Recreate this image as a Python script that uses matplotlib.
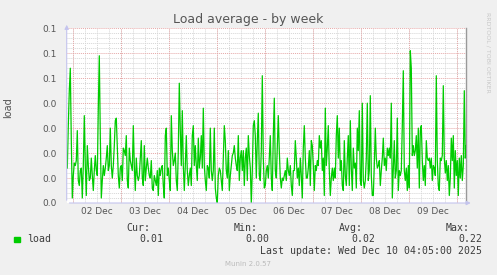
import numpy as np
import pandas as pd
import matplotlib
matplotlib.use('Agg')
import matplotlib.pyplot as plt
from matplotlib.patches import Rectangle
from matplotlib.ticker import FixedLocator, MultipleLocator, FormatStrFormatter
import matplotlib.dates as mdates

# load average, one sample per 30 min, in hundredths
load_centi = [
    1.4, 3.1, 4.5, 5.4, 2.5, 0.2, 1.1, 1.6, 1.5, 1.7, 2.9, 0.9, 0.7, 1.3, 1.4, 0.2, 1.5, 3.5, 1.5, 0.3,
    2.3, 1.5, 0.9, 1.0, 1.8, 1.1, 0.5, 1.3, 1.9, 1.3, 1.1, 3.8, 5.9, 2.7, 0.2, 0.9, 1.5, 1.1, 1.4, 1.8,
    2.3, 1.3, 1.5, 3.0, 1.5, 1.0, 1.5, 2.3, 3.3, 3.4, 2.3, 1.1, 0.6, 1.4, 1.5, 0.9, 2.2, 2.1, 1.9, 2.7,
    0.9, 0.6, 2.2, 1.7, 1.5, 1.3, 3.1, 1.5, 0.5, 1.8, 1.1, 0.9, 1.1, 1.8, 2.5, 1.0, 0.7, 2.3, 0.9, 1.4,
    1.8, 1.4, 1.1, 1.0, 1.7, 0.6, 0.5, 1.1, 0.9, 0.7, 1.3, 0.3, 1.4, 1.1, 1.4, 1.5, 0.7, 0.2, 2.7, 3.0,
    1.1, 1.4, 0.9, 0.5, 3.5, 2.1, 1.5, 1.7, 2.0, 0.9, 0.5, 2.1, 4.8, 2.9, 1.5, 3.7, 1.5, 0.5, 1.5, 2.7,
    1.3, 0.7, 1.1, 1.4, 0.7, 2.7, 3.1, 1.5, 2.3, 1.5, 0.9, 2.6, 1.4, 1.8, 2.7, 1.4, 3.8, 1.5, 0.9, 0.5,
    1.5, 1.4, 1.0, 3.0, 1.3, 0.9, 1.3, 3.0, 0.6, 0.2, 0.0, 1.1, 1.4, 1.3, 0.9, 0.5, 1.8, 3.1, 2.5, 1.3,
    1.0, 2.1, 0.5, 1.1, 1.5, 1.9, 2.0, 2.3, 1.8, 1.5, 1.3, 2.7, 0.9, 1.8, 2.1, 1.3, 2.1, 0.7, 1.8, 2.2,
    0.9, 2.7, 1.9, 1.4, 0.0, 1.3, 3.1, 3.3, 2.7, 1.0, 2.5, 3.6, 1.1, 0.9, 2.1, 5.1, 1.8, 0.6, 0.7, 1.3,
    1.5, 1.0, 1.8, 2.7, 1.0, 0.5, 2.7, 4.2, 1.3, 1.0, 2.2, 3.5, 2.1, 1.0, 0.6, 1.0, 0.9, 1.1, 1.3, 0.9,
    1.8, 1.3, 1.1, 1.5, 0.7, 0.3, 1.3, 1.3, 2.5, 1.8, 1.0, 1.4, 0.7, 1.8, 1.1, 0.2, 2.2, 3.1, 1.8, 1.0,
    1.0, 1.4, 2.1, 0.7, 2.5, 2.3, 1.5, 0.5, 1.5, 1.3, 1.7, 1.5, 2.7, 2.2, 2.5, 1.3, 1.8, 0.3, 3.8, 1.5,
    2.2, 3.1, 1.3, 0.3, 1.0, 1.4, 0.9, 1.4, 1.0, 2.7, 3.5, 1.8, 3.0, 1.3, 1.7, 0.7, 0.5, 2.5, 1.1, 0.7,
    1.8, 2.7, 0.7, 3.3, 1.4, 0.5, 2.2, 1.4, 1.6, 0.6, 3.0, 2.1, 3.7, 0.9, 0.7, 4.0, 0.9, 0.6, 0.9, 1.8,
    4.0, 0.9, 1.3, 4.3, 1.1, 0.3, 0.3, 1.5, 3.0, 1.8, 1.4, 1.5, 1.7, 0.7, 1.3, 1.8, 2.6, 1.5, 1.8, 1.3,
    2.2, 1.9, 2.2, 1.8, 4.0, 0.2, 1.4, 2.5, 1.0, 1.3, 3.4, 0.5, 1.3, 1.1, 1.3, 3.1, 5.3, 1.3, 0.9, 1.4,
    0.5, 1.5, 0.6, 6.1, 5.4, 1.9, 2.3, 1.9, 2.1, 2.7, 1.4, 3.0, 0.6, 2.9, 3.1, 1.7, 0.9, 1.5, 0.7, 2.5,
    1.8, 1.7, 1.8, 1.4, 1.8, 0.9, 1.5, 1.4, 1.1, 5.1, 1.7, 0.7, 0.5, 1.8, 1.7, 1.9, 4.7, 1.8, 1.2, 1.7,
    0.9, 1.5, 0.3, 1.0, 2.6, 1.7, 2.7, 0.6, 2.1, 1.1, 1.7, 0.3, 1.8, 1.0, 1.9, 0.9, 1.5, 4.5, 1.8, 2.3,
]
first_sample = '2025-12-01 21:00'
view_start = '2025-12-01 20:42'
view_end = '2025-12-10 04:30'

title = 'Load average - by week'
stat_names = ['Cur:', 'Min:', 'Avg:', 'Max:']
stat_values = ['0.01', '0.00', '0.02', '0.22']
last_update = 'Last update: Wed Dec 10 04:05:00 2025'

times = pd.date_range(first_sample, periods=len(load_centi), freq='30min')
load = np.array(load_centi) / 100

W, H = 497, 275
fig = plt.figure(figsize=(W / 100, H / 100), dpi=100, facecolor='#f0f0f0')

def fx(x):
    return x / W

def fy(y):
    return 1 - y / H

ax = fig.add_axes([fx(66.7), fy(203), 399.6 / W, 174.7 / H])
ax.set_facecolor('#ffffff')

dots = (0, (1, 1))
# vertical grid: grey every 6 h, red at midnight
for t in pd.date_range('2025-12-01 00:00', view_end, freq='6h'):
    ax.axvline(t, color='#d6d6d6', lw=0.7, ls=dots, zorder=0.5)
for t in pd.date_range('2025-12-02', '2025-12-10', freq='D'):
    ax.axvline(t, color='#e6a8a8', lw=0.7, ls=dots, zorder=0.6)

ax.plot(times, load, color='#00cc00', lw=0.9, zorder=3)

ax.set_xlim(pd.Timestamp(view_start), pd.Timestamp(view_end))
ax.set_ylim(0, 0.07)

ax.yaxis.set_major_locator(FixedLocator(np.arange(8) / 100))
ax.yaxis.set_minor_locator(MultipleLocator(0.002))
ax.yaxis.set_major_formatter(FormatStrFormatter('%.1f'))
ax.grid(which='major', axis='y', color='#e6a8a8', lw=0.7, ls=dots, zorder=0.6)
ax.grid(which='minor', axis='y', color='#d6d6d6', lw=0.7, ls=dots, zorder=0.5)
ax.set_axisbelow(True)

ax.xaxis.set_major_locator(mdates.HourLocator(byhour=[12]))
ax.xaxis.set_major_formatter(mdates.DateFormatter('%d Dec'))
ax.tick_params(axis='both', which='both', length=0, labelsize=6.5, labelcolor='#555555')
ax.tick_params(axis='y', pad=7)
ax.tick_params(axis='x', pad=3)

for s in ['top', 'left', 'bottom']:
    ax.spines[s].set_visible(False)
ax.spines['right'].set_color('#999999')
ax.spines['right'].set_linewidth(1)

axis_col = '#c4c4ee'
ax.annotate('', xy=(0, 1.036), xytext=(0, 0), xycoords='axes fraction',
            arrowprops=dict(arrowstyle='-|>', color=axis_col, lw=0.8, mutation_scale=6),
            annotation_clip=False)
ax.annotate('', xy=(1.018, 0), xytext=(0, 0), xycoords='axes fraction',
            arrowprops=dict(arrowstyle='-|>', color=axis_col, lw=0.8, mutation_scale=6),
            annotation_clip=False)

fig.text(fx(248), fy(20), title, ha='center', va='center', fontsize=9, color='#555555')
fig.text(fx(8), fy(108), 'load', rotation=90, ha='center', va='center', fontsize=7, color='#555555')
fig.text(fx(488.5), fy(52), 'RRDTOOL / TOBI OETIKER', rotation=270, ha='center', va='center',
         fontsize=4.5, color='#c8c8c8')

# legend block
mono = 'DejaVu Sans Mono'
txt_col = '#3c3c3c'
fig.patches.append(Rectangle((fx(14), fy(242.3)), 6 / W, 5.6 / H, transform=fig.transFigure,
                             color='#00cc00'))
fig.text(fx(26.7), fy(239.5), 'load', ha='left', va='center', family=mono, fontsize=7.1, color=txt_col)
head_x = [150.7, 257.3, 363.3, 470]
val_x = [163, 269.3, 375.7, 482.3]
for name, val, hx, vx in zip(stat_names, stat_values, head_x, val_x):
    fig.text(fx(hx), fy(228.3), name, ha='right', va='center', family=mono, fontsize=7.1, color=txt_col)
    fig.text(fx(vx), fy(239.5), val, ha='right', va='center', family=mono, fontsize=7.1, color=txt_col)
fig.text(fx(482.3), fy(251), last_update, ha='right', va='center', family=mono, fontsize=7.1, color=txt_col)
fig.text(fx(248), fy(264.3), 'Munin 2.0.57', ha='center', va='center', fontsize=5, color='#bbbbbb')

fig.savefig('out.png', dpi=100, facecolor=fig.get_facecolor())
